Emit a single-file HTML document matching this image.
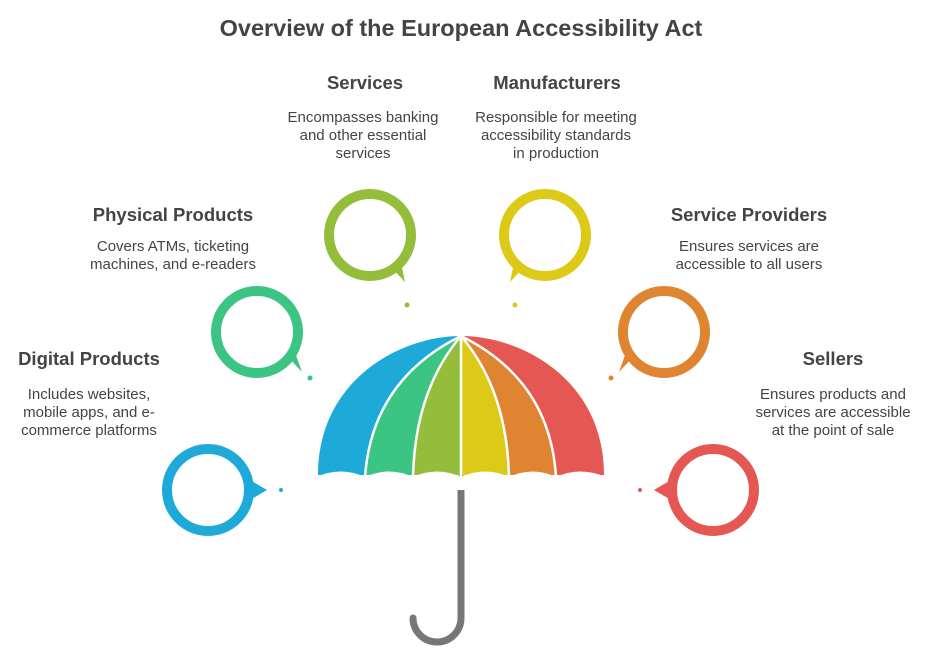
<!DOCTYPE html>
<html><head><meta charset="utf-8"><style>
body{margin:0;background:#fff;}
svg text{font-family:"Liberation Sans",sans-serif;fill:#444;}
.h{font-size:18.5px;font-weight:bold;text-anchor:middle;}
.b{font-size:15px;text-anchor:middle;}
</style></head><body>
<svg width="935" height="652" viewBox="0 0 935 652" xmlns="http://www.w3.org/2000/svg">
<text x="461" y="36" style="font-size:23.5px;font-weight:bold;text-anchor:middle">Overview of the European Accessibility Act</text>

<text class="h" x="365" y="89">Services</text>
<text class="b" x="363" y="122">Encompasses banking</text>
<text class="b" x="363" y="140">and other essential</text>
<text class="b" x="363" y="158">services</text>

<text class="h" x="557" y="89">Manufacturers</text>
<text class="b" x="556" y="122">Responsible for meeting</text>
<text class="b" x="556" y="140">accessibility standards</text>
<text class="b" x="556" y="158">in production</text>

<text class="h" x="173" y="221">Physical Products</text>
<text class="b" x="173" y="251">Covers ATMs, ticketing</text>
<text class="b" x="173" y="269">machines, and e-readers</text>

<text class="h" x="749" y="221">Service Providers</text>
<text class="b" x="749" y="251">Ensures services are</text>
<text class="b" x="749" y="269">accessible to all users</text>

<text class="h" x="89" y="365">Digital Products</text>
<text class="b" x="89" y="399">Includes websites,</text>
<text class="b" x="89" y="417">mobile apps, and e-</text>
<text class="b" x="89" y="435">commerce platforms</text>

<text class="h" x="833" y="365">Sellers</text>
<text class="b" x="833" y="399">Ensures products and</text>
<text class="b" x="833" y="417">services are accessible</text>
<text class="b" x="833" y="435">at the point of sale</text>

<g stroke-width="10" fill="none">
<circle cx="208" cy="490" r="41" stroke="#1eaad8"/>
<path d="M250,480 L267,490 L250,500 Z" fill="#1eaad8" stroke="none"/>
<circle cx="257" cy="332" r="41" stroke="#3cc582"/>
<path d="M286,355 L302,372 L292,344 Z" fill="#3cc582" stroke="none"/>
<circle cx="370" cy="235" r="41" stroke="#93bd3a"/>
<path d="M390,266 L405,282 L400,258 Z" fill="#93bd3a" stroke="none"/>
<circle cx="545" cy="235" r="41" stroke="#ddca18"/>
<path d="M525,266 L510,282 L515,258 Z" fill="#ddca18" stroke="none"/>
<circle cx="664" cy="332" r="41" stroke="#df8430"/>
<path d="M635,355 L619,372 L629,344 Z" fill="#df8430" stroke="none"/>
<circle cx="713" cy="490" r="41" stroke="#e45752"/>
<path d="M671,480 L654,490 L671,500 Z" fill="#e45752" stroke="none"/>
</g>
<circle cx="281" cy="490" r="2" fill="#1eaad8"/>
<circle cx="310" cy="378" r="2.5" fill="#3cc582"/>
<circle cx="407" cy="305" r="2.5" fill="#93bd3a"/>
<circle cx="515" cy="305" r="2.5" fill="#ddca18"/>
<circle cx="611" cy="378" r="2.5" fill="#df8430"/>
<circle cx="640" cy="490" r="2" fill="#e45752"/>

<path d="M461,478 L461,618 A24,24 0 0 1 413,618" stroke="#777" stroke-width="7" fill="none" stroke-linecap="round"/>

<path d="M461,336 C400,336 318,380 318,475 L365,475 Q372,380 461,336Z" fill="#1eaad8"/>
<path d="M461,336 Q372,380 365,475 L413,475 Q415,390 461,336Z" fill="#3cc582"/>
<path d="M461,336 Q415,390 413,475 L461,475 Z" fill="#93bd3a"/>
<path d="M461,336 L461,475 L509,475 Q507,390 461,336Z" fill="#ddca18"/>
<path d="M461,336 Q507,390 509,475 L556,475 Q550,380 461,336Z" fill="#df8430"/>
<path d="M461,336 Q550,380 556,475 L604,475 C604,380 522,336 461,336Z" fill="#e45752"/>
<g stroke="#fff" stroke-width="2.5" fill="none">
<path d="M461,336 Q372,380 365,477"/>
<path d="M461,336 Q415,390 413,477"/>
<path d="M461,336 L461,477"/>
<path d="M461,336 Q507,390 509,477"/>
<path d="M461,336 Q550,380 556,477"/>
</g>
<path d="M316,477 Q341,466 365,477 Q389,466 413,477 Q437,466 461,477 Q485,466 509,477 Q533,466 556,477 Q580,466 606,477 L606,490 L316,490Z" fill="#fff"/>
</svg>
</body></html>
